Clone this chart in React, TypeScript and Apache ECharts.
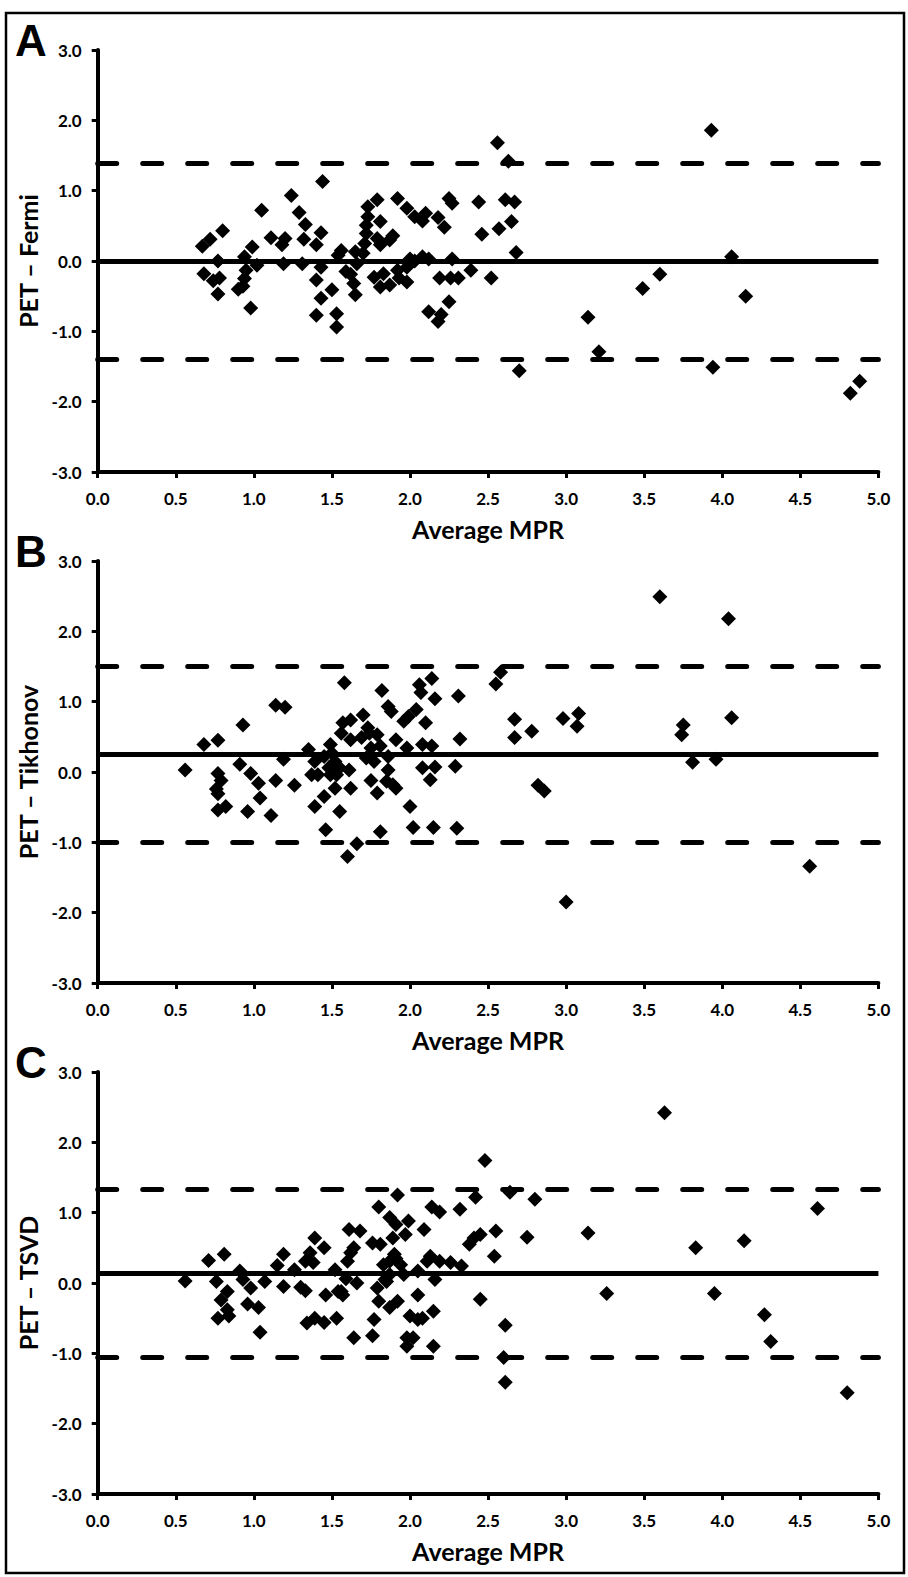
import React, { useEffect, useRef } from "react";
import * as echarts from "echarts";

// ---- Data (Average MPR, PET − method) ----
const fermiPoints: number[][] = [
  [0.67, 0.21], [0.72, 0.31], [0.8, 0.43], [0.77, 0.0], [0.68, -0.18], [0.74, -0.28], [0.78, -0.24], [0.77, -0.47], [0.9, -0.4],
  [0.98, -0.67], [0.94, 0.06], [0.95, -0.13], [0.94, -0.25], [0.93, -0.36], [0.99, 0.2], [1.02, -0.06], [1.05, 0.72], [1.11, 0.33],
  [1.18, 0.23], [1.2, 0.32], [1.19, -0.04], [1.24, 0.93], [1.29, 0.69], [1.33, 0.52], [1.32, 0.31], [1.31, -0.04], [1.4, 0.23],
  [1.43, 0.4], [1.44, 1.13], [1.43, -0.09], [1.4, -0.27], [1.43, -0.53], [1.4, -0.77], [1.5, -0.41], [1.53, -0.75], [1.53, -0.94],
  [1.56, 0.15], [1.54, 0.08], [1.59, -0.15], [1.62, -0.19], [1.65, -0.48], [1.64, -0.32], [1.66, -0.04], [1.65, 0.13],
  [1.73, 0.77], [1.73, 0.63], [1.72, 0.51], [1.72, 0.39], [1.71, 0.25], [1.7, 0.11], [1.79, 0.87], [1.81, 0.56], [1.79, 0.32],
  [1.81, 0.23], [1.87, 0.3], [1.89, 0.36], [1.77, -0.23], [1.81, -0.37], [1.87, -0.34], [1.83, -0.18], [1.92, 0.89], [1.98, 0.75],
  [2.03, 0.63], [2.1, 0.68], [2.08, 0.57], [2.18, 0.62], [2.22, 0.48], [2.25, 0.89], [2.27, 0.82], [2.44, 0.84], [2.46, 0.38],
  [2.57, 0.46], [2.61, 0.87], [2.67, 0.84], [2.65, 0.56], [2.68, 0.12], [2.56, 1.68], [2.63, 1.42], [1.92, -0.13], [1.98, -0.09],
  [2.0, 0.03], [1.93, -0.24], [1.98, -0.3], [2.03, 0.0], [2.08, 0.06], [2.12, 0.03], [2.19, -0.24], [2.26, -0.24], [2.31, -0.24],
  [2.39, -0.13], [2.52, -0.24], [2.27, 0.03], [2.25, -0.58], [2.12, -0.72], [2.18, -0.86], [2.2, -0.76], [3.14, -0.8], [3.21, -1.29],
  [3.49, -0.39], [3.6, -0.19], [3.93, 1.86], [3.94, -1.51], [4.06, 0.06], [4.15, -0.5], [4.82, -1.88], [4.88, -1.71], [2.7, -1.56],
];

const tikhonovPoints: number[][] = [
  [0.56, 0.03], [0.68, 0.39], [0.77, 0.45], [0.77, -0.02], [0.79, -0.12], [0.76, -0.24], [0.77, -0.31], [0.77, -0.54], [0.82, -0.49],
  [0.91, 0.11], [0.93, 0.67], [0.98, -0.02], [1.03, -0.16], [1.04, -0.37], [0.96, -0.56], [1.11, -0.62], [1.14, -0.12], [1.14, 0.95],
  [1.2, 0.92], [1.19, 0.18], [1.26, -0.19], [1.35, 0.32], [1.39, 0.15], [1.41, -0.04], [1.37, -0.04], [1.39, -0.49], [1.45, -0.35],
  [1.46, -0.82], [1.6, -1.2], [1.66, -1.02], [1.81, -0.85], [1.55, -0.56], [1.58, 1.27], [1.82, 1.16], [1.86, 0.93], [1.88, 0.86],
  [1.52, -0.23], [1.62, -0.23], [1.53, -0.04], [1.7, 0.81], [1.73, 0.63], [1.57, 0.7], [1.62, 0.74], [1.56, 0.55], [1.62, 0.46],
  [1.69, 0.49], [1.49, 0.39], [1.5, 0.27], [1.45, 0.22], [1.52, 0.15], [1.48, 0.06], [1.55, 0.06], [1.49, -0.04], [1.61, 0.03],
  [1.74, 0.55], [1.79, 0.53], [1.81, 0.37], [1.75, 0.34], [1.72, 0.2], [1.77, 0.15], [1.86, 0.22], [1.91, 0.46], [1.98, 0.34],
  [1.96, 0.72], [1.99, 0.79], [2.04, 0.89], [2.06, 1.24], [2.07, 1.13], [2.14, 1.33], [2.16, 1.04], [2.1, 0.7], [2.08, 0.39],
  [2.14, 0.37], [2.08, 0.06], [2.16, 0.07], [2.13, -0.11], [2.31, 1.08], [2.32, 0.47], [2.29, 0.08], [2.0, -0.49], [2.02, -0.79],
  [2.15, -0.79], [2.3, -0.8], [1.75, -0.12], [1.79, -0.3], [1.86, 0.03], [1.89, -0.18], [1.91, -0.23], [1.85, -0.13],
  [2.58, 1.42], [2.55, 1.25], [2.67, 0.75], [2.67, 0.49], [2.78, 0.58], [2.98, 0.76], [3.08, 0.83], [3.07, 0.65], [2.82, -0.19],
  [2.86, -0.27], [3.0, -1.85], [3.6, 2.49], [4.04, 2.18], [3.75, 0.67], [3.74, 0.53], [3.81, 0.14], [3.96, 0.18], [4.06, 0.77],
  [4.56, -1.34],
];

const tsvdPoints: number[][] = [
  [0.56, 0.03], [0.71, 0.32], [0.81, 0.41], [0.76, 0.02], [0.83, -0.12], [0.79, -0.24], [0.83, -0.38], [0.77, -0.5], [0.84, -0.47],
  [0.91, 0.17], [0.93, 0.05], [0.98, -0.07], [0.96, -0.3], [1.03, -0.35], [1.04, -0.7], [1.07, 0.02], [1.15, 0.25], [1.19, 0.41],
  [1.19, -0.05], [1.26, 0.19], [1.3, -0.06], [1.33, -0.11], [1.33, 0.31], [1.36, 0.43], [1.39, 0.64], [1.45, 0.5], [1.38, 0.29],
  [1.34, -0.57], [1.39, -0.5], [1.45, -0.56], [1.46, -0.17], [1.53, -0.5], [1.54, -0.12], [1.52, 0.19], [1.64, -0.78], [1.61, 0.76],
  [1.68, 0.74], [1.64, 0.5], [1.6, 0.31], [1.62, 0.43], [1.59, 0.06], [1.66, 0.0], [1.56, -0.12], [1.57, -0.17], [1.76, -0.75],
  [1.77, -0.52], [1.8, -0.26], [1.79, -0.07], [1.76, 0.57], [1.81, 0.55], [1.8, 1.08], [1.92, 1.25], [1.87, 0.93], [1.91, 0.83],
  [1.97, 0.69], [1.89, 0.64], [1.83, 0.26], [1.87, 0.31], [1.91, 0.35], [1.87, 0.12], [1.84, 0.05], [1.87, -0.35], [1.92, -0.26],
  [1.98, -0.78], [1.98, -0.9], [3.63, 2.42], [2.48, 1.74], [2.14, 1.08], [2.19, 1.01], [2.32, 1.05], [2.42, 1.22], [2.64, 1.29],
  [2.8, 1.19], [1.99, 0.88], [2.09, 0.76], [2.38, 0.55], [2.41, 0.64], [2.45, 0.69], [2.55, 0.74], [2.75, 0.65], [2.54, 0.38],
  [3.14, 0.71], [3.83, 0.5], [4.14, 0.6], [4.61, 1.06], [1.9, 0.41], [2.13, 0.38], [2.19, 0.31], [2.26, 0.29], [2.33, 0.24],
  [2.11, 0.31], [1.94, 0.26], [2.05, 0.17], [1.96, 0.12], [2.16, 0.05], [1.85, 0.02], [2.05, -0.17], [2.0, -0.47], [2.05, -0.52],
  [2.08, -0.5], [2.15, -0.4], [2.02, -0.78], [2.15, -0.9], [2.45, -0.23], [2.61, -0.6], [2.6, -1.06], [2.61, -1.41], [3.26, -0.15],
  [3.95, -0.15], [4.27, -0.45], [4.31, -0.83], [4.8, -1.56],
];

const panelLetters = ["A", "B", "C"];
const yAxisNames = ["PET \u2013 Fermi", "PET \u2013 Tikhonov", "PET \u2013 TSVD"];
const xAxisName = "Average MPR";
const meanBias = [0.0, 0.25, 0.135];
const upperLimit = [1.39, 1.5, 1.335];
const lowerLimit = [-1.39, -1.0, -1.065];
const panelData = [fermiPoints, tikhonovPoints, tsvdPoints];

const FONT = "Lato, 'Open Sans', sans-serif";

export default function App() {
  const ref = useRef<HTMLDivElement>(null);

  useEffect(() => {
    if (!ref.current) return;
    const chart = echarts.init(ref.current, undefined, { renderer: "svg" });

    const gridTops = [50, 561, 1072];
    const gridH = 422;
    const gridLeft = 97.7;
    const gridW = 780.7;

    const grids = gridTops.map((t) => ({ left: gridLeft, top: t, width: gridW, height: gridH }));

    const xAxes = gridTops.map((_, i) => ({
      type: "value",
      gridIndex: i,
      min: 0,
      max: 5,
      interval: 0.5,
      name: xAxisName,
      nameLocation: "middle",
      nameGap: 44,
      nameTextStyle: { fontFamily: FONT, fontWeight: "bold", fontSize: 25, color: "#000" },
      axisLine: { show: true, onZero: false, lineStyle: { color: "#000", width: 4 } },
      axisTick: { show: true, inside: false, length: 6, lineStyle: { color: "#000", width: 3 } },
      axisLabel: {
        margin: 18,
        fontFamily: FONT,
        fontWeight: "bold",
        fontSize: 17,
        color: "#000",
        formatter: (v: number) => v.toFixed(1),
      },
      splitLine: { show: false },
    }));

    const yAxes = gridTops.map((_, i) => ({
      type: "value",
      gridIndex: i,
      min: -3,
      max: 3,
      interval: 1,
      name: yAxisNames[i],
      nameLocation: "middle",
      nameGap: 56,
      nameTextStyle: { fontFamily: FONT, fontWeight: "bold", fontSize: 25, color: "#000" },
      axisLine: { show: true, onZero: false, lineStyle: { color: "#000", width: 4 } },
      axisTick: { show: true, inside: false, length: 6, lineStyle: { color: "#000", width: 3 } },
      axisLabel: {
        margin: 16,
        fontFamily: FONT,
        fontWeight: "bold",
        fontSize: 17,
        color: "#000",
        formatter: (v: number) => v.toFixed(1),
      },
      splitLine: { show: false },
    }));

    const series = panelData.map((pts, i) => ({
      type: "scatter",
      xAxisIndex: i,
      yAxisIndex: i,
      data: pts,
      symbol: "diamond",
      symbolSize: 15,
      itemStyle: { color: "#000", opacity: 1 },
      silent: true,
      markLine: {
        silent: true,
        symbol: "none",
        label: { show: false },
        animation: false,
        data: [
          { yAxis: upperLimit[i], lineStyle: { color: "#000", width: 5, type: [19, 26], cap: "round", opacity: 1 } },
          { yAxis: lowerLimit[i], lineStyle: { color: "#000", width: 5, type: [19, 26], cap: "round", opacity: 1 } },
          { yAxis: meanBias[i], lineStyle: { color: "#000", width: 5, type: "solid", opacity: 1 } },
        ],
      },
      z: 3,
    }));

    const graphics: any[] = [
      {
        type: "rect",
        shape: { x: 6, y: 13, width: 898, height: 1560 },
        style: { fill: "none", stroke: "#000", lineWidth: 2.5 },
        silent: true,
      },
    ];
    panelLetters.forEach((L, i) => {
      graphics.push({
        type: "text",
        x: 31,
        y: gridTops[i] - 10,
        style: {
          text: L,
          fontFamily: "'Liberation Sans', Arial, sans-serif",
          fontWeight: "bold",
          fontSize: 44,
          fill: "#000",
          textAlign: "center",
          textVerticalAlign: "middle",
        },
        silent: true,
      });
    });

    chart.setOption({
      animation: false,
      backgroundColor: "#fff",
      grid: grids,
      xAxis: xAxes,
      yAxis: yAxes,
      series,
      graphic: graphics,
    });

    return () => chart.dispose();
  }, []);

  return (
    <div
      ref={ref}
      style={{ position: "absolute", left: 0, top: 0, width: 908, height: 1577, background: "#fff" }}
    />
  );
}
